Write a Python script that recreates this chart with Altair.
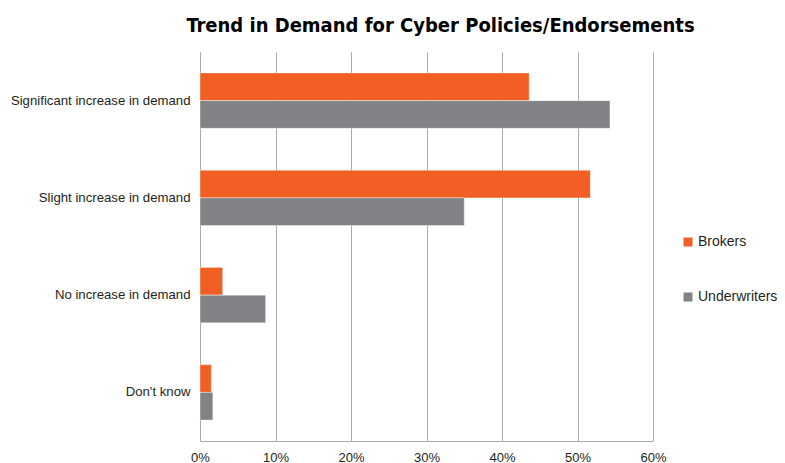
import altair as alt
import pandas as pd

categories = ["Significant increase in demand", "Slight increase in demand",
              "No increase in demand", "Don't know"]
series = ["Brokers", "Underwriters"]
brokers = [0.436, 0.517, 0.030, 0.015]
underwriters = [0.543, 0.350, 0.087, 0.017]
x_ticks = [0, 0.1, 0.2, 0.3, 0.4, 0.5, 0.6]

rows = []
for c, b, u in zip(categories, brokers, underwriters):
    rows.append({"category": c, "series": "Brokers", "value": b})
    rows.append({"category": c, "series": "Underwriters", "value": u})
df = pd.DataFrame(rows)

chart = alt.Chart(df).mark_bar(stroke="#ffffff", strokeOpacity=0.5, strokeWidth=0.8).encode(
    y=alt.Y("category:N", sort=categories, title=None,
            scale=alt.Scale(paddingInner=0.43, paddingOuter=0.215),
            axis=alt.Axis(ticks=False, domain=False, labelPadding=10,
                          labelFont="Liberation Sans", labelFontSize=13.2,
                          labelColor="#231f20", labelLimit=300)),
    yOffset=alt.YOffset("series:N", sort=series, scale=alt.Scale(paddingInner=0, paddingOuter=0)),
    x=alt.X("value:Q", title=None,
            scale=alt.Scale(domain=[0, 0.6], nice=False),
            axis=alt.Axis(values=x_ticks, format=".0%", ticks=False, labelFlush=False,
                          grid=True, gridColor="#ababab", gridWidth=1,
                          domain=True, domainColor="#ababab",
                          labelFont="Liberation Sans", labelFontSize=13,
                          labelColor="#231f20", labelPadding=10)),
    color=alt.Color("series:N", sort=series, title=None,
                    scale=alt.Scale(domain=series, range=["#f15f24", "#818285"]),
                    legend=alt.Legend(orient="none", legendX=481, legendY=183,
                                      symbolType="square", symbolSize=81,
                                      symbolStrokeWidth=0,
                                      labelFont="Liberation Sans", labelFontSize=14,
                                      labelColor="#231f20", rowPadding=41,
                                      labelOffset=3, labelLimit=200)),
).properties(
    width=453, height=389,
    title=alt.TitleParams("Trend in Demand for Cyber Policies/Endorsements",
                          font="DejaVu Sans Condensed", fontSize=20, fontWeight="bold",
                          color="#000000", anchor="middle", dx=14, offset=16),
    autosize=alt.AutoSizeParams(type="none"),
    padding={"left": 192, "top": 44, "right": 124, "bottom": 22},
).configure_view(stroke=None)

chart.save("out.html", embed_options={"renderer": "svg", "actions": False})
